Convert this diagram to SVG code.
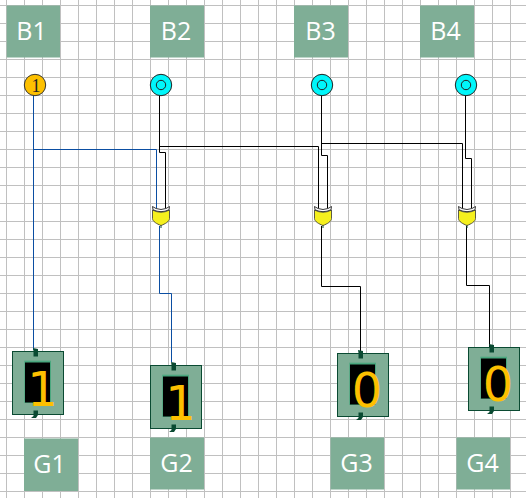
<svg xmlns="http://www.w3.org/2000/svg" xmlns:xlink="http://www.w3.org/1999/xlink" width="526" height="498" viewBox="0 0 526 498">
<style>
.lbl{fill:#7fae96}
.lt{font-family:"Open Sans","Noto Sans",sans-serif;font-size:25px;fill:#fff;text-anchor:middle}
.w{fill:none;stroke:#000;stroke-width:1}
.b{fill:none;stroke:#0b4ea2;stroke-width:1}
.dig{font-family:"DejaVu Sans",sans-serif;font-size:48px;fill:#fdc000;text-anchor:middle}
.case{fill:#7fae96;stroke:#0a4a32;stroke-width:1}
.pin{fill:#0a4a32}
.body{fill:#f5f01e;stroke:#333;stroke-width:.8}
.band{fill:#fff;stroke:#222;stroke-width:.9}
.on{fill:#fdc000;stroke:#333;stroke-width:1}
.off{fill:#00f6fa;stroke:#222;stroke-width:1}
.ring{fill:none;stroke:#222;stroke-width:1}
</style>
<defs>
<pattern id="grid" patternUnits="userSpaceOnUse" x="6" y="5" width="18" height="18">
<rect width="1" height="18" fill="#c0c0c0"/><rect width="18" height="1" fill="#c0c0c0"/>
</pattern>
<g id="gate">
<path class="pin" d="M-.5 19h1v3h-1z"/>
<path class="body" d="M-8.500 4Q0 8.500 8.500 4V12.500C8.500 15.500 4 18 0 19.500C-4 18-8.500 15.500-8.500 12.500Z"/>
<path class="band" d="M-8.500 .5L-5 2.500Q0 4.500 5 2.500L8.500 .5L8 3.800Q0 7.500-8 3.800Z"/>
</g>
<g id="disp">
<rect class="case" x="12.500" y="351.500" width="51" height="63"/>
<rect x="24.300" y="360.700" width="26.700" height="42.300" fill="#4aa87f"/>
<rect x="25" y="362.500" width="25" height="40" fill="#000"/>
<path class="pin" d="M33 348L38 349V356.500H33.500V351Z"/>
<path class="pin" d="M33.500 410.500H38V415L36 418H31L33.500 416Z"/>
</g>
</defs>
<rect width="526" height="498" fill="#fff"/>
<rect width="526" height="498" fill="url(#grid)"/>
<g id="connectors">
<path class="b" d="M33.500 95V350"/>
<path class="b" d="M33.500 149.500H156.500V208"/>
<path class="b" d="M159.500 226V293.500H171.500V362"/>
<path class="w" d="M159.500 95V152.500H165.500V208"/>
<path class="w" d="M159.500 146.500H318.500V208"/>
<path class="w" d="M321.500 95V155.500H327.500V208"/>
<path class="w" d="M321.500 143.500H462.500V208"/>
<path class="w" d="M465.500 95V158.500H471.500V208"/>
<path class="w" d="M321.500 226V286.500H360.500V354"/>
<path class="w" d="M466.500 226V285.500H489.500V348"/>
</g>
<g id="B1"><rect class="lbl" x="6.700" y="5.500" width="53.300" height="52"/><text class="lt" x="31.500" y="39.500">B1</text></g>
<g id="B2"><rect class="lbl" x="150" y="5.500" width="54" height="52"/><text class="lt" x="176" y="39.500">B2</text></g>
<g id="B3"><rect class="lbl" x="294" y="5.500" width="54" height="52"/><text class="lt" x="320.500" y="39.500">B3</text></g>
<g id="B4"><rect class="lbl" x="420" y="5.500" width="54" height="52"/><text class="lt" x="445.500" y="39.500">B4</text></g>
<g id="S1"><circle class="on" cx="35" cy="85" r="10.700"/><text x="36" y="92" font-family="Liberation Serif,serif" font-size="18" fill="#222" text-anchor="middle">1</text></g>
<g id="S2"><circle class="off" cx="161" cy="85" r="10.700"/><circle class="ring" cx="161" cy="85" r="4.700"/></g>
<g id="S3"><circle class="off" cx="322" cy="85" r="10.700"/><circle class="ring" cx="322" cy="85" r="4.700"/></g>
<g id="S4"><circle class="off" cx="466" cy="85" r="10.700"/><circle class="ring" cx="466" cy="85" r="4.700"/></g>
<g id="X2"><use xlink:href="#gate" href="#gate" transform="translate(161 206)"/></g>
<g id="X3"><use xlink:href="#gate" href="#gate" transform="translate(323 206)"/></g>
<g id="X4"><use xlink:href="#gate" href="#gate" transform="translate(467 206)"/></g>
<g id="D1"><use xlink:href="#disp" href="#disp"/><text class="dig" x="42.500" y="406">1</text></g>
<g id="D2"><use xlink:href="#disp" href="#disp" transform="translate(138 14)"/><text class="dig" x="180.500" y="420">1</text></g>
<g id="D3"><use xlink:href="#disp" href="#disp" transform="translate(325 2)"/><text class="dig" x="367" y="407">0</text></g>
<g id="D4"><use xlink:href="#disp" href="#disp" transform="translate(456 -4)"/><text class="dig" x="498" y="401">0</text></g>
<g id="G1"><rect class="lbl" x="24" y="438.500" width="54" height="52.500"/><text class="lt" x="49.500" y="473">G1</text></g>
<g id="G2"><rect class="lbl" x="150" y="437.500" width="54" height="52"/><text class="lt" x="176.500" y="471.500">G2</text></g>
<g id="G3"><rect class="lbl" x="330.500" y="437.500" width="53.500" height="52"/><text class="lt" x="356.500" y="471.500">G3</text></g>
<g id="G4"><rect class="lbl" x="456.500" y="437.500" width="53.500" height="52"/><text class="lt" x="482.500" y="471.500">G4</text></g>
</svg>
